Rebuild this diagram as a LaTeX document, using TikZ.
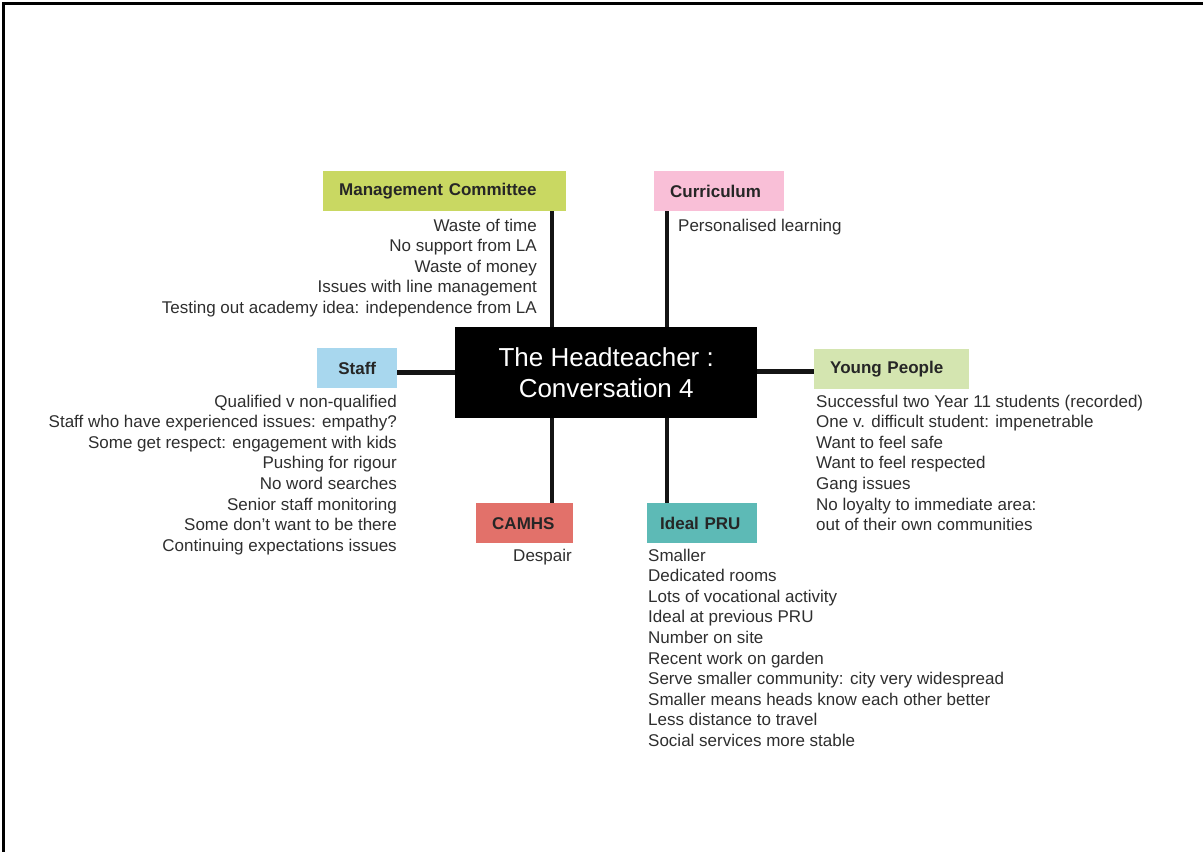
\documentclass[tikz,border=0pt]{standalone}
\usepackage{fontspec}
\setmainfont{Liberation Sans}
\begin{document}
\begin{tikzpicture}[x=1pt,y=-1pt,
  conn/.style={line width=4.6pt, draw=black!92},
  topic/.style={minimum height=40pt, inner xsep=16pt, inner ysep=0pt,
    align=left, font=\fontsize{17}{20}\selectfont\bfseries, text=black!85,
    anchor=north west},
  notes/.style={inner sep=0pt, font=\fontsize{17}{20.6}\selectfont, text=black!82},
  hubbox/.style={fill=black, text=white, minimum width=302pt, minimum height=91pt,
    align=center, font=\fontsize{26}{31}\selectfont, anchor=north west}]
\useasboundingbox (0,0) rectangle (1203,852);
% page frame (top and left edges)
\draw[line width=3pt] (3,852) -- (3,3) -- (1203,3);

\definecolor{mcgreen}{HTML}{C9D862}
\definecolor{curpink}{HTML}{F9BFD7}
\definecolor{stblue}{HTML}{A8D7EE}
\definecolor{ypgreen}{HTML}{D4E5B0}
\definecolor{camred}{HTML}{E2716A}
\definecolor{prutea}{HTML}{5DBAB6}

% hub
\node[hubbox] (hub) at (455,327) {The Headteacher :\\Conversation 4};

% topic boxes
\node[topic, fill=mcgreen, text width=211pt] (mc) at (323,171) {Management Committee};
\node[topic, fill=curpink, text width=98pt] (cur) at (654,171) {Curriculum};
\node[topic, fill=stblue, inner xsep=0pt, minimum width=80pt, align=center] (staff) at (317,348) {Staff};
\node[topic, fill=ypgreen, text width=123pt] (yp) at (814,349) {Young People};
\node[topic, fill=camred, text width=65pt] (cam) at (476,503) {CAMHS};
\node[topic, fill=prutea, inner xsep=13pt, text width=84pt] (pru) at (647,503) {Ideal PRU};

% branch columns and side attachment points
\coordinate (lx) at (552,0);
\coordinate (rx) at (667,0);
\coordinate (sta) at ([yshift=-4pt]staff.east);
\coordinate (ypa) at ([yshift=-2pt]yp.west);

% connectors
\draw[conn] (mc.south -| lx) -- (hub.north -| lx);
\draw[conn] (cur.south -| rx) -- (hub.north -| rx);
\draw[conn] (hub.south -| lx) -- (cam.north -| lx);
\draw[conn] (hub.south -| rx) -- (pru.north -| rx);
\draw[conn] (sta) -- (sta -| hub.west);
\draw[conn] (hub.east |- ypa) -- (ypa);

% notes
\node[notes, align=right, anchor=north east] (mcn) at (537,218.5)
  {Waste of time\\No support from LA\\Waste of money\\Issues with line management\\Testing out academy idea: independence from LA};
\node[notes, align=left, anchor=north west] (curn) at (678,218.5)
  {Personalised learning};
\node[notes, align=right, anchor=north east] (stn) at (397,394.5)
  {Qualified v non-qualified\\Staff who have experienced issues: empathy?\\Some get respect: engagement with kids\\Pushing for rigour\\No word searches\\Senior staff monitoring\\Some don’t want to be there\\Continuing expectations issues};
\node[notes, align=left, anchor=north west] (ypn) at (816,394.5)
  {Successful two Year 11 students (recorded)\\One v. difficult student: impenetrable\\Want to feel safe\\Want to feel respected\\Gang issues\\No loyalty to immediate area:\\out of their own communities};
\node[notes, align=right, anchor=north east] (camn) at (572,548.5)
  {Despair};
\node[notes, align=left, anchor=north west] (prun) at (648,548.5)
  {Smaller\\Dedicated rooms\\Lots of vocational activity\\Ideal at previous PRU\\Number on site\\Recent work on garden\\Serve smaller community: city very widespread\\Smaller means heads know each other better\\Less distance to travel\\Social services more stable};
\end{tikzpicture}
\end{document}
